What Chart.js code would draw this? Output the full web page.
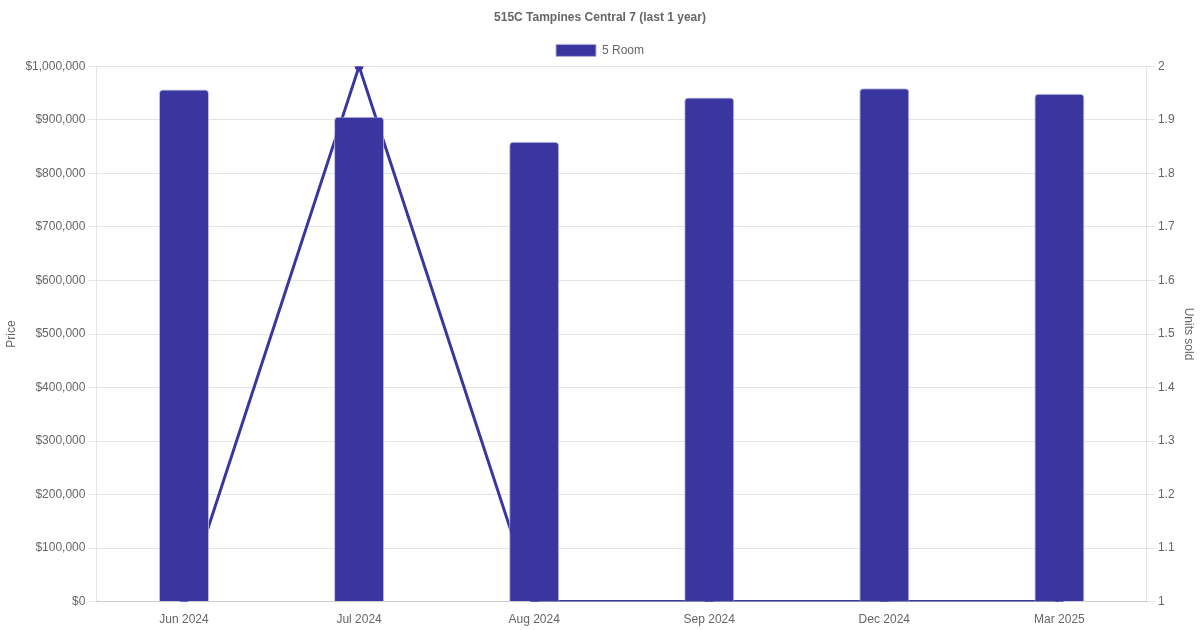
<!DOCTYPE html>
<html>
<head>
<meta charset="utf-8">
<script src="https://cdn.jsdelivr.net/npm/chart.js@4"></script>
<style>
  html, body { margin: 0; padding: 0; background: #fff; }
  #wrap { width: 1200px; height: 630px; }
</style>
</head>
<body>
<div id="wrap"><canvas id="priceChart"></canvas></div>
<script>
const months = ["Jun 2024", "Jul 2024", "Aug 2024", "Sep 2024", "Dec 2024", "Mar 2025"];
const prices = [957000, 906000, 859000, 942000, 959000, 949000];
const unitsSold = [1, 2, 1, 1, 1, 1];

Chart.defaults.font.family = "'Liberation Sans', Arial, sans-serif";
Chart.defaults.color = "#666";

const ctx = document.getElementById("priceChart").getContext("2d");
const priceChart = new Chart(ctx, {
  data: {
    labels: months,
    datasets: [
      {
        type: "bar",
        label: "5 Room",
        data: prices,
        backgroundColor: "#3a36a0",
        borderColor: "rgba(180,178,220,0.9)",
        borderWidth: 1,
        borderRadius: 4,
        maxBarThickness: 50,
        yAxisID: "y",
      },
      {
        type: "line",
        label: "Units sold",
        data: unitsSold,
        borderColor: "#3a36a0",
        backgroundColor: "#3a36a0",
        borderWidth: 3,
        pointRadius: 3,
        tension: 0,
        yAxisID: "y2",
      },
    ],
  },
  options: {
    responsive: true,
    maintainAspectRatio: false,
    animation: false,
    scales: {
      x: {
        grid: { display: false },
        ticks: { font: { size: 12 } },
      },
      y: {
        position: "left",
        min: 0,
        max: 1000000,
        ticks: {
          stepSize: 100000,
          font: { size: 12 },
          callback: function (value) {
            return "$" + value.toLocaleString("en-US");
          },
        },
        title: { display: true, text: "Price", font: { size: 12 } },
      },
      y2: {
        position: "right",
        min: 1,
        max: 2,
        ticks: {
          stepSize: 0.1,
          font: { size: 12 },
          callback: function (value) {
            return String(Math.round(value * 10) / 10);
          },
        },
        grid: { drawOnChartArea: false },
        title: { display: true, text: "Units sold", font: { size: 12 } },
      },
    },
    plugins: {
      title: {
        display: true,
        text: "515C Tampines Central 7 (last 1 year)",
        font: { size: 12, weight: "bold" },
        padding: { top: 10, bottom: 10 },
      },
      legend: {
        display: true,
        labels: {
          boxWidth: 40,
          boxHeight: 12,
          font: { size: 12 },
          filter: function (item) {
            return item.datasetIndex === 0;
          },
        },
      },
    },
  },
});
</script>
</body>
</html>
